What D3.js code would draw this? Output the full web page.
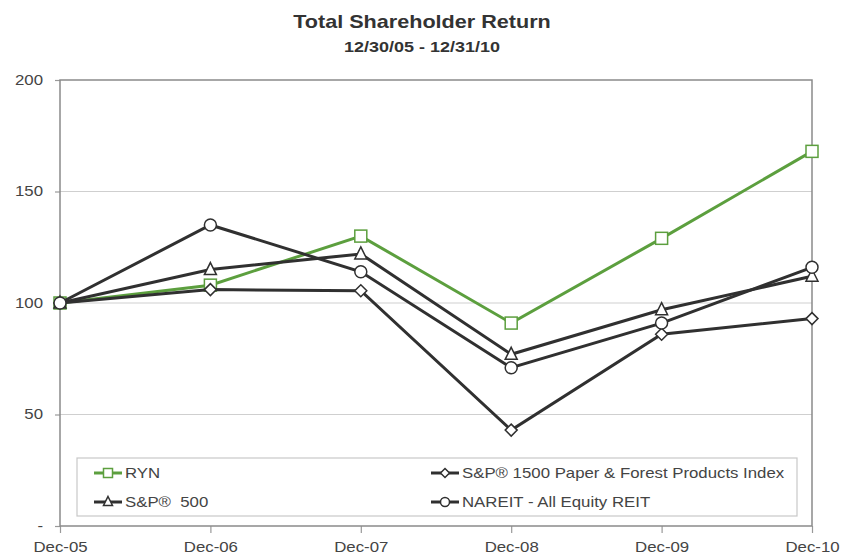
<!DOCTYPE html>
<html>
<head>
<meta charset="utf-8">
<script src="https://cdn.jsdelivr.net/npm/d3@7"></script>
<style>
  body { margin: 0; background: #fff; }
  svg text { font-family: Arial, "Liberation Sans", sans-serif; fill: #444; }
</style>
</head>
<body>
<div class="chart"></div>
<script>
'use strict';

// Data
const periods = ['Dec-05', 'Dec-06', 'Dec-07', 'Dec-08', 'Dec-09', 'Dec-10'];
const ryn = [100, 108, 130, 91, 129, 168];
const sp500 = [100, 115, 122, 77, 97, 112];
const paper = [100, 106, 105.5, 43, 86, 93];
const nareit = [100, 135, 114, 71, 91, 116];
const yTicks = [0, 50, 100, 150, 200];

// Initialize
const w = 843;
const h = 558;
const plotLeft = 60, plotRight = 812, plotTop = 80, plotBottom = 526;
const green = '#5c9f3e';
const dark = '#303030';
const sx = 1.2; // the original's lettering is a little wide

const series = [
  { name: 'RYN', values: ryn, color: green, shape: 'square' },
  { name: 'S&P\u00AE 1500 Paper & Forest Products Index', values: paper, color: dark, shape: 'diamond' },
  { name: 'S&P\u00AE  500', values: sp500, color: dark, shape: 'triangle' },
  { name: 'NAREIT - All Equity REIT', values: nareit, color: dark, shape: 'circle' }
];
// draw order: green first, then black lines
const drawOrder = [series[0], series[2], series[1], series[3]];

const svg = d3.select('.chart')
  .append('svg')
  .attr('width', w)
  .attr('height', h);

// widen text horizontally around its own x
function widen(sel) {
  sel.each(function () {
    const t = d3.select(this);
    const x = +t.attr('x') || 0;
    t.attr('x', x / sx).attr('transform', `scale(${sx},1)`);
  });
}

// Scales
const xScale = d3.scalePoint().domain(periods).range([plotLeft, plotRight]);
const yScale = d3.scaleLinear().domain([0, 200]).range([plotBottom, plotTop]);

// Titles
svg.append('text')
  .attr('x', 422).attr('y', 28)
  .attr('text-anchor', 'middle')
  .style('font-size', '18px').style('font-weight', 'bold').style('fill', '#333')
  .text('Total Shareholder Return')
  .call(widen);
svg.append('text')
  .attr('x', 422).attr('y', 52)
  .attr('text-anchor', 'middle')
  .style('font-size', '15px').style('font-weight', 'bold').style('fill', '#333')
  .text('12/30/05 - 12/31/10')
  .call(widen);

// Grid lines
svg.append('g')
  .selectAll('line')
  .data([50, 100, 150])
  .enter()
  .append('line')
  .attr('x1', plotLeft).attr('x2', plotRight)
  .attr('y1', d => yScale(d)).attr('y2', d => yScale(d))
  .attr('stroke', '#cfcfcf').attr('stroke-width', 1.2);

// Axes
const yAxis = d3.axisLeft(yScale)
  .tickValues(yTicks)
  .tickSize(5)
  .tickPadding(12)
  .tickFormat(d => d === 0 ? '-' : d);
const xAxis = d3.axisBottom(xScale).tickSize(7).tickPadding(9);

const gy = svg.append('g')
  .attr('transform', `translate(${plotLeft}, 0)`)
  .call(yAxis);
const gx = svg.append('g')
  .attr('transform', `translate(0, ${plotBottom})`)
  .call(xAxis);

[gx, gy].forEach(g => {
  g.select('.domain').remove();
  g.selectAll('line').attr('stroke', '#999').attr('stroke-width', 1.2);
  g.selectAll('text')
    .style('font-size', '14px').style('fill', '#444')
    .style('font-family', 'Arial, "Liberation Sans", sans-serif')
    .call(widen);
});

// Frame
svg.append('rect')
  .attr('x', plotLeft).attr('y', plotTop)
  .attr('width', plotRight - plotLeft).attr('height', plotBottom - plotTop)
  .attr('fill', 'none').attr('stroke', '#8a8a8a').attr('stroke-width', 1.5);

// Markers
function marker(g, shape, color, size) {
  const s = size;
  if (shape === 'square') {
    g.append('rect').attr('x', -s / 2).attr('y', -s / 2).attr('width', s).attr('height', s)
      .attr('fill', '#fff').attr('stroke', color).attr('stroke-width', 1.5);
  } else if (shape === 'circle') {
    g.append('circle').attr('r', s / 2)
      .attr('fill', '#fff').attr('stroke', color).attr('stroke-width', 1.5);
  } else if (shape === 'triangle') {
    g.append('path').attr('d', `M0,${-s / 2 - 1}L${s / 2},${s / 2 - 1}L${-s / 2},${s / 2 - 1}Z`)
      .attr('fill', '#fff').attr('stroke', color).attr('stroke-width', 1.5);
  } else {
    const d = s * 0.5;
    g.append('path').attr('d', `M0,${-d}L${d},0L0,${d}L${-d},0Z`)
      .attr('fill', '#fff').attr('stroke', color).attr('stroke-width', 1.5);
  }
}

const line = d3.line()
  .x((d, i) => xScale(periods[i]))
  .y(d => yScale(d));

drawOrder.forEach(s => {
  const g = svg.append('g');
  g.append('path')
    .attr('d', line(s.values))
    .attr('fill', 'none')
    .attr('stroke', s.color)
    .attr('stroke-width', 3);
  g.selectAll('g')
    .data(s.values)
    .enter()
    .append('g')
    .attr('transform', (d, i) => `translate(${xScale(periods[i])}, ${yScale(d)})`)
    .each(function () { marker(d3.select(this), s.shape, s.color, 12); });
});

// Legend
const legend = svg.append('g');
legend.append('rect')
  .attr('x', 77).attr('y', 458)
  .attr('width', 720).attr('height', 58)
  .attr('fill', '#fff').attr('stroke', '#c8c8c8').attr('stroke-width', 1.2);

const legendPos = [[108, 473], [445, 473], [108, 502], [445, 502]];
series.forEach((s, i) => {
  const [lx, ly] = legendPos[i];
  const item = legend.append('g').attr('transform', `translate(${lx}, ${ly})`);
  item.append('line')
    .attr('x1', -14).attr('x2', 14)
    .attr('stroke', s.color).attr('stroke-width', 3);
  marker(item.append('g'), s.shape, s.color, 9);
  item.append('text')
    .attr('x', 17).attr('y', 5)
    .style('font-size', '14px')
    .style('white-space', 'pre')
    .text(s.name)
    .call(widen);
});
</script>
</body>
</html>
